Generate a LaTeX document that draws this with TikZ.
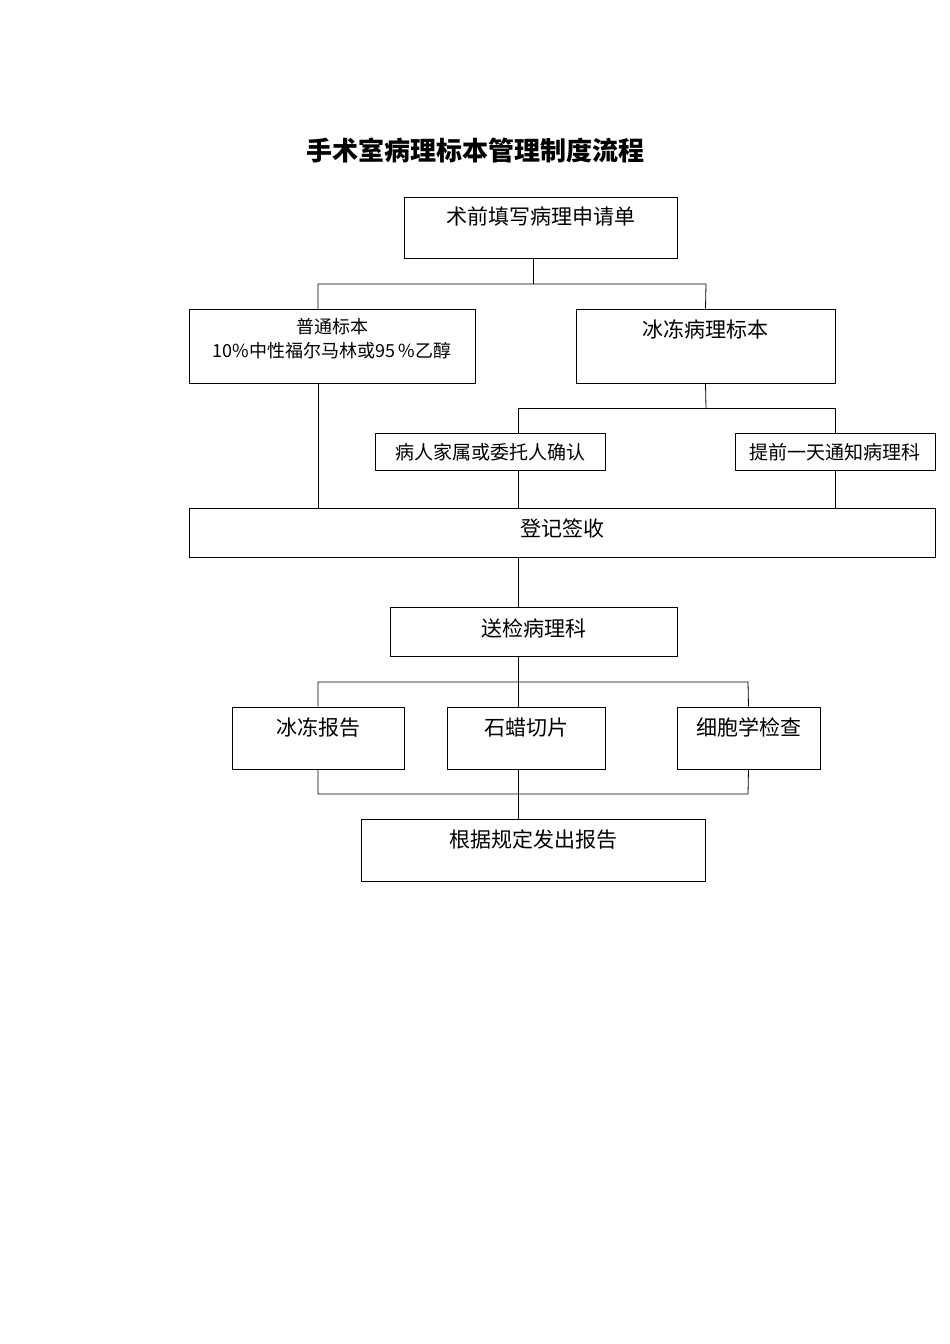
\documentclass[tikz,border=0pt]{standalone}
\usepackage{fontspec}
\setmainfont{Noto Sans CJK SC}
\begin{document}
\begin{tikzpicture}[x=1pt,y=-1pt,line width=0.8pt,
  box/.style={draw,rectangle,inner sep=0pt},
  txt/.style={font=\fontsize{19}{22}\selectfont,anchor=north,align=center},
  big/.style={font=\fontsize{21}{24}\selectfont,anchor=north}]
\useasboundingbox (0,0) rectangle (950,1344);
\node[font=\bfseries\fontsize{26}{30}\selectfont] (title) at (475,150) {手术室病理标本管理制度流程};
% boxes
\node[box,minimum width=273pt,minimum height=61pt] (sq) at (540.5,227.5) {};
\node[box,minimum width=286pt,minimum height=74pt] (pt) at (332,346) {};
\node[box,minimum width=259pt,minimum height=74pt] (bd) at (705.5,346) {};
\node[box,minimum width=230pt,minimum height=37pt] (qr) at (490,451.5) {};
\node[box,minimum width=200pt,minimum height=37pt] (tz) at (835,451.5) {};
\node[box,minimum width=746pt,minimum height=49pt] (dj) at (562,532.5) {};
\node[box,minimum width=287pt,minimum height=49pt] (sj) at (533.5,631.5) {};
\node[box,minimum width=172pt,minimum height=62pt] (bg) at (318,738) {};
\node[box,minimum width=158pt,minimum height=62pt] (sl) at (526,738) {};
\node[box,minimum width=143pt,minimum height=62pt] (xb) at (748.5,738) {};
\node[box,minimum width=344pt,minimum height=62pt] (fc) at (533,850) {};
% texts
\node[big] at (540.5,203) {术前填写病理申请单};
\node[txt,font=\fontsize{18}{24}\selectfont] at (332,315) {普通标本\\10\%中性福尔马林或95\,\%乙醇};
\node[big] at (705.5,316) {冰冻病理标本};
\node[txt] at (490,440) {病人家属或委托人确认};
\node[txt] at (835,440) {提前一天通知病理科};
\node[big] at (562,515) {登记签收};
\node[big] at (533.5,615) {送检病理科};
\node[big] at (318,714) {冰冻报告};
\node[big] at (526,714) {石蜡切片};
\node[big] at (748.5,714) {细胞学检查};
\node[big] at (533,826) {根据规定发出报告};
% connectors
\coordinate (a1) at (533,284);
\draw (sq.south -| a1) -- (a1);
\draw (318,309) |- (706,284) -- (bd.north);
\coordinate (a2) at (706,408);
\draw (bd.south) -- (a2);
\draw (qr.north -| 518,0) |- (835,408) -- (tz.north);
\draw (pt.south -| 318,0) -- (dj.north -| 318,0);
\draw (qr.south -| 518,0) -- (dj.north -| 518,0);
\draw (tz.south) -- (tz.south |- dj.north);
\draw (dj.south -| 518,0) -- (sj.north -| 518,0);
\draw (sj.south -| 518,0) -- (518,707);
\draw (bg.north) |- (748,682) -- (xb.north);
\draw (bg.south) |- (748,794) -- (xb.south);
\draw (sl.south -| 518,0) -- (fc.north -| 518,0);
\end{tikzpicture}
\end{document}
